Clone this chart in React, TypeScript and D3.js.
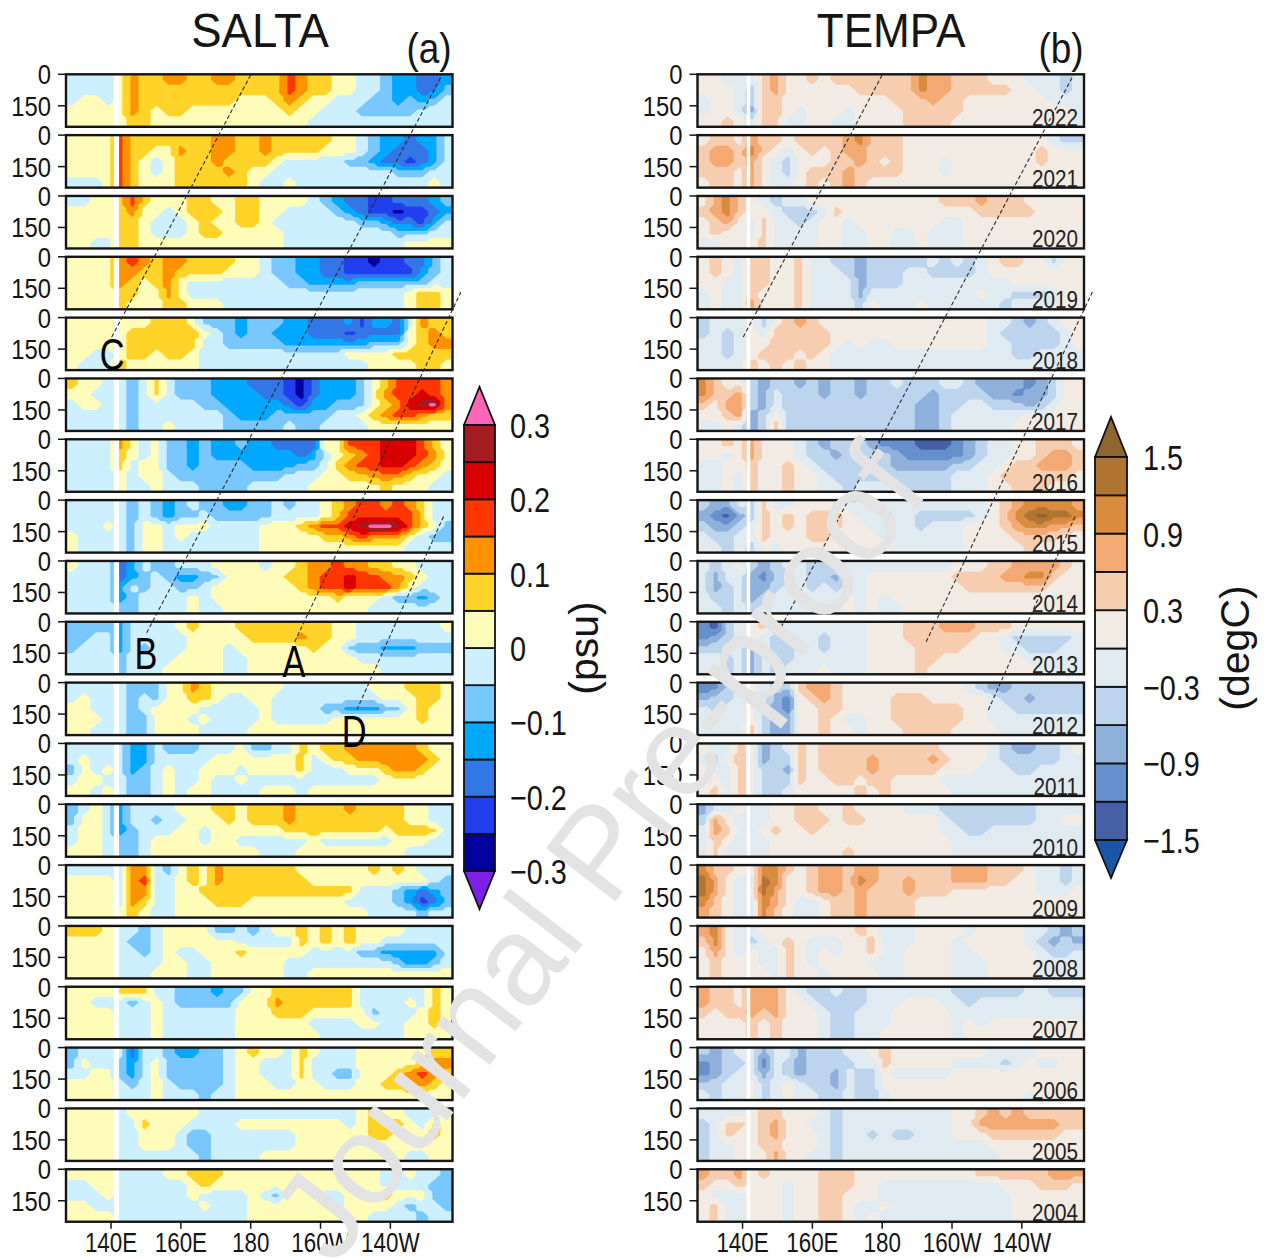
import React from 'react';
import { contours, geoPath, geoTransform, scaleLinear, scaleThreshold } from 'd3';

// years, top panel first
const years = [2022, 2021, 2020, 2019, 2018, 2017, 2016, 2015, 2014, 2013, 2012, 2011, 2010, 2009, 2008, 2007, 2006, 2005, 2004];

// class letters, one per 3.5 deg of longitude, five depth rows per year
const saltClasses = 'abcdefghijklmn';
const saltMids = [-0.325, -0.275, -0.225, -0.175, -0.125, -0.075, -0.025, 0.025, 0.075, 0.125, 0.175, 0.225, 0.275, 0.325];
const saltBreaks = [-0.3, -0.25, -0.2, -0.15, -0.1, -0.05, 0, 0.05, 0.1, 0.15, 0.2, 0.25, 0.3];
const saltColors = ['#7d1fe6', '#0000a0', '#2040f0', '#3377e6', '#00a8ff', '#78c8ff', '#ccf0ff', '#fffbb8', '#ffd327', '#ff9200', '#ff3600', '#d80000', '#a51c20', '#ff66b8'];
const saltLabels = ['0.3', '0.2', '0.1', '0', '\u22120.1', '\u22120.2', '\u22120.3'];
const saltLabelValues = [0.3, 0.2, 0.1, 0, -0.1, -0.2, -0.3];

const tempClasses = 'abcdefghijkl';
const tempMids = [-1.65, -1.35, -1.05, -0.75, -0.45, -0.15, 0.15, 0.45, 0.75, 1.05, 1.35, 1.65];
const tempBreaks = [-1.5, -1.2, -0.9, -0.6, -0.3, 0, 0.3, 0.6, 0.9, 1.2, 1.5];
const tempColors = ['#1b55a5', '#4660a8', '#6690cc', '#8fb0da', '#bcd4ec', '#e0eaf1', '#f2ebe3', '#f6cdae', '#f3a971', '#d98b3e', '#b07433', '#8f6630'];
const tempLabels = ['1.5', '0.9', '0.3', '\u22120.3', '\u22120.9', '\u22121.5'];
const tempLabelValues = [1.5, 0.9, 0.3, -0.3, -0.9, -1.5];

const lonTicks = [140, 160, 180, 200, 220];
const lonLabels = ['140E', '160E', '180', '160W', '140W'];
const depthTicks = [0, 150];

// propagation lines: lon / panel position (in panel steps from the top)
const lineLons = [[140.2, 180], [150.2, 234.8], [192.6, 240.2], [210.4, 235.3]];
const lineSteps = [[4.32, 0.01], [9.18, 0.01], [9.33, 3.58], [10.45, 7.26]];
const markNames = ['C', 'B', 'A', 'D'];
const markLons = [140.3, 150, 192.4, 209.6];
const markSteps = [4.6, 9.51, 9.65, 10.8];

const salta2022 = [
  'gggg hjii jjii jjii iikj iihh ggfe edde',
  'gggg hjii iiii iiii iikj iihh ggfe eddf',
  'ghhg hjii iiii iihh hiji hhgg gffe fefg',
  'hhhh hjih iihh hhhh hhih hggg ffff fggg',
  'hhhh hiih hhhh hhhh hhhh gggg gggg gggg',
];
const salta2021 = [
  'hhhh kiii iiii jjii jiii iihh gfee deeg',
  'hhhh kiih hjii jjii jiii ihhh gfed ddeg',
  'hhhh kihg hiii jiii ihgg gggf fedd cdeg',
  'hhhh kihg hiii ijih hggg gggg gggf ffgg',
  'gggh kihh hiii iiih gghg gggg gggg gghg',
];
const salta2020 = [
  'gghh ikih hhii hhii hhhh gfed dccd ddef',
  'hhhh ijhh ghii ihii hhgg ggfe dccb ccde',
  'hhhh iihg gghi hhii hggg gggg ffed dceg',
  'hhhh iihg gghi ihhh hhgg gggg gggf ffgg',
  'hhgg iihh hhhh hhhh hhgg gggg gggg hhhh',
];
const salta2019 = [
  'hhhh jkji jjii iihh gffe eddc cbcc ddfg',
  'hhhh jjii jiii ihhh gffe eddc cccc cefg',
  'hhhh jihi jhgg gggg ggff eeee ffff ffgg',
  'hhhh iihh jhgg gggg gggg gggg gggg hiih',
  'hhhh ihhh iihh hggg gggg gggg gggg hiih',
];
const salta2018 = [
  'hhhh hhhi iihf ffef ffee ddde ceed gjii',
  'hhhh hiii iiih gfef feee dddc dddd hiji',
  'hhhh hiii iiig gfff ffee eeee efff hijj',
  'hhgg hiih iihg gggg gggg gggh hhhi iiii',
  'hggg ihhh hhhg gggg gggg gggg ghhh hiih',
];
const salta2017 = [
  'ihhg gfgi gfff eeed ddcb deee fhik kkkj',
  'hhgg gfgi gfff eeee ddcb deee fhjk klkj',
  'ghhg gfgg gggf feee eedc eeff fhij lmnj',
  'gggg gfgg gggg gfee efff ffgg hijk kjii',
  'gggg gfgg hggg gfff ffgf fggg ghhh hhhh',
];
const salta2016 = [
  'gggg jhgh ffef eefe eddd dhhk kkll lkih',
  'gggg ihgh ffef eeee eeed eghi jkll lkjh',
  'gggg ighh ffef fffe eeef fgij kkll kjih',
  'gggg hghh gfff ffff ffgg ghhi ijjj ihhg',
  'gggg hggh gggf fffg gggg hhhh hhih hhgg',
];
const salta2015 = [
  'gggg gfgf efgf feef fgfg ghij kkjk jigg',
  'gggg gfgf effg ffff fggg ghik kkkk kigg',
  'gggh gfhh ghhh gggg hhhi jkkl mnnm kihf',
  'hggg gfhh ghgg gggg hhhh hiij kjjj hgff',
  'hggg gfhh gggg gggg hhhh hhhh hhhh gggg',
];
const salta2014 = [
  'hggg degf fggg hhhh ghhi jjkj jiih hggg',
  'gggg defg feef fhhh hhii jkkl kkjj ihgg',
  'gggg egfg gffg hhhh hhhi jkkl kkkj hggg',
  'gggg efgg gghg hhhh hhhh hhih hhgf fefg',
  'gggg ffgg gghg ghhh hhhh hhhh hggg gggg',
];
const salta2013 = [
  'ffff eggg ghih hhii iiii iihh gggg gggh',
  'ffgg eggg gghh hhhi iiij iihh gggg gggg',
  'fggg egfg gghh hghh hhhh ihhf ffee efff',
  'gggg fggg ghhh hggh hhhh hhhh gggg gggg',
  'gggg fggg hhhh hggh hhhh hhhh hhgg gggg',
];
const salta2012 = [
  'gggg gfff hhji hhhh hhgg gggg ghhh iiih',
  'ghgg gfgf hhii hggh hggg gggg gghh hiih',
  'hhgg gfgh hhhg gggg hggg gffe eeff hihh',
  'hhhg gffh hhgh gggg hggg gghh hhhh hihh',
  'hhgg gffh hhhg gggh hhhh hhhh hhhh hhhh',
];
const salta2011 = [
  'gggg geeg fffg gghf fggi hiij jjjj jihh',
  'ghgg geeg gggg hhhh hhhi ghii jjjj jjih',
  'fhgh gefg hggh hhgh hhhi gggh hhij jihh',
  'ghhg gffg hggh gghg gggg gggg gghh hhhh',
  'hhgh gffg hghh gggg hhhg hhhh hhhh hhhh',
];
const salta2010 = [
  'fghg eggg ghhh iihi iiji iiij iiii hhgg',
  'fhhg eggf gghh hihi iiji iiii iiii hhgg',
  'ghhg efgg ghhg hhhh hhii iiii iihi iiig',
  'ghhg ffgh hhhg hhgg gggg hggg gggh hhgg',
  'hhhg ffgh hhhh hhhh gggh hhhh hhhh gggg',
];
const salta2009 = [
  'gggg gjjg fhih jiii iiih hhhh hihi hggg',
  'hhhh gjkg ghih jiii iiii hhhh hhhh hhgf',
  'hhhh gjjg ghhi iiii iiii iiii gggf edef',
  'hhhh gjig ghhh iiih hhhh hhhg gggf ecdf',
  'hhhh hihg ghhh hhhh hhhh hhhh hggg gfgg',
];
const salta2008 = [
  'iiih ggfg hhhh ffgf ghhi hihi hhhh gggg',
  'hhhh gffg hhhh hhgg gggi hihi hhgg gggg',
  'hhhh ggfg hggh hhih hhhh gggg ffee eeeg',
  'hhhh gggg hhgg hhhh hhgg gggg gggf eefg',
  'hhhh gggh hhgg hhhh hhgg hhhh hhhh hhhh',
];
const salta2007 = [
  'hhhh iiig gfff effh hiii iiii gggg ggih',
  'hhgg gfgh gfff ffhh hjii iiii gggg hgih',
  'hhhh gggh gggg gghh hiii hhhh hfgg ghih',
  'hhhh gggh gggg gghh hhhh gggg hhgg hhih',
  'hhhh gggh gggg gghh hhhh hggg gggg hhhh',
];
const salta2006 = [
  'fggg gdgg feef fghi hhgi hggg hhhh hhii',
  'fhgg fegh ffff fghh gggi gggg hhhh hijj',
  'gghh fegh ffff fghh gggi ggff hhhi jkji',
  'hhhh gfgh gfff fghh hggh hggg hhii jjih',
  'hhhh gggh gggf gghh hhhh hhhh hhhh hhhh',
];
const salta2005 = [
  'hhhh ghhh hhhg gggg gggg gggg hihh gggh',
  'hhhh ggih hhgg gghh hhhh hhhg hiii hgih',
  'hhhh gghh hgff gggg gggh hhhh hiih hhih',
  'hhhh gghh hgff gggg gggh hhhh hhhh hhhh',
  'hhhh gggg gggf gggg hhhh hhhh hhhh gghh',
];
const salta2004 = [
  'hhhh gggg hhii ihhh hhhh hhhh hhgg hggf',
  'gghh gggg gghi hhhh hhhh hhhh hhgg ggff',
  'gggh gggg gghg gggh gfhh hggh ghih hhff',
  'hhgg gggg gggh gggh hhhh hhgh hhhg fggf',
  'hhhh gggg gggg gggh hhhh hhhh hggg gfgg',
];

const tempa2022 = [
  'ggff fhig ghgh hhhh hhji ihhh gggf ffef',
  'gggf ehig gggg ghhh hhji ihhh hhgg ffef',
  'fggf ehhg gggg gggg hhhi hhgg gggg gfff',
  'fggf dhhg fggg fggg ghhh hhgg gggg gggf',
  'gghg fhhf fggf fggg ghhh hggg gggg gggf',
];
const tempa2021 = [
  'ghhg ihhg hhhh ijhh hggg gggg gggg gfee',
  'hiih jhgf ghgh iihh hggg gggg gggg hggg',
  'hiih igfe gggh hihg hggg fggg gggg hggg',
  'hhhg igfe ghhh ihhh hggg fggg gggg gggg',
  'ghhg igff ghgh ihgg gggg gggg gggg gggg',
];
const tempa2020 = [
  'gijh gfef fggg gggg gggg hhhi hhhg gggg',
  'hijh ggfe eefh gggg gggg gggh hhhh gggg',
  'ghig fhff efgg fggg gggg ffgg gggg gggg',
  'ghgg fhff ffgg ffgg ffgf ffgg gggg gggg',
  'ffgg ghff ffgg ffgg ffgf ffgg gggg gggg',
];
const tempa2019 = [
  'ghgf hhgg hffe edee eeef efef ghhg gegg',
  'ghgf hhgg hfff edee effe eeef gggg gggg',
  'ggff hhgg hfff fdee efff ffff ffgg gggg',
  'fgff hggg hfff fdff ffff fffg ffee efgg',
  'fgff iggg hfff fegf ffgf ffff feff ffgg',
];
const tempa2018 = [
  'efff gegh ihgg gggg gggg gggg ffed efgg',
  'efef gfhh hhhg gggg gggg gggg feee eefg',
  'ffef gghh hhhg fgff gggg gggg ffee eefg',
  'ffef ghhh ghgf ffff ffff ffff ffee ffff',
  'ffff hghg hggf ffff ffff ffff ffff ffff',
];
const tempa2017 = [
  'jhgg edee dede edee feee ffed dddc degg',
  'jhhi edfe eede edee eeed eeee ddcd degg',
  'hgii edfe eeee eeee eedd eeff eeed efgg',
  'gghi dege eeee eeee eedd efff fffg fggg',
  'ffgf dehe eeee eeee eedd efff ffgg gggg',
];
const tempa2016 = [
  'gghg iggg fede eedc ccbb bcde ffgg hhhg',
  'ggfg iggg feed eeee dccc ccde ffgg hiih',
  'ffgg hggh gfee eeee dddd deef fghh iiih',
  'ffgf hggh ggfe eeee eeee efff ghhh hhhg',
  'ffgf hggh ggff efff feee efff gghh hggg',
];
const tempa2015 = [
  'eddf ehff gggg ffgf ffff ffff ghij jjji',
  'dcbd ehgh ghhh gffg ffee eeef ghjk lkkj',
  'edde fhgh ghhh ggff ffef ffgg ghij jiih',
  'feef fhgg ghhg gggf ffff ffgg gghh hhgg',
  'ffef egfg gggg gggg ffff ffgg gggh gggg',
];
const tempa2014 = [
  'fefg edef feef ffff ffff fggg hhii iihg',
  'fdff dcee feed ffgg gggg ghhh hiij jhgg',
  'fdef ddef fefe ffgg gggg gghh hhhh hggg',
  'feef deff ffff gfgf gggg gggg gggg gfgg',
  'ffef efff ffff gfgf fggg gggg gggg gggg',
];
const tempa2013 = [
  'cbef ghef ffff ffgg ghhh iiih hhgg gggg',
  'cdef gfef ffef ffgg ghhh hhhg gfee eeef',
  'eeff dfee ffef ffgg gghh hhgg gffe eeff',
  'ffef dfee ffff ffgg gghh gggg gggf ffff',
  'ffef dfef ffgf ffgg gghg gggg gggg ffff',
];
const tempa2012 = [
  'ccef gfee hiih gggg gggg ggfe ddee eeee',
  'deef gfdc ghih gggg hhhg gggg feed eeee',
  'feff gedc gghh gggg hhhh hhgg ffee eeee',
  'ffff gedd gghg ffgg hhhh hhgg ffff ffff',
  'ffff hedd gghg gfgg ghhh hggg gfff ffff',
];
const tempa2011 = [
  'gffh gdef hghh hhhh hhhh gggg fedd eefg',
  'fegh gdee hghh hhih hhhi hggg feee eeff',
  'gffh geed hghh hhih hhhh gggf ffee ffff',
  'ggfh geee hggh hghh gggg ffff ffff ffff',
  'ghfh geef gggg ghgh gggg gfff ffff ffff',
];
const tempa2010 = [
  'dffg ffgg hhgg hggg gfff eeee eeee ffff',
  'eigf ffgg hhhg hhgg gggg feee eeee ffgg',
  'fihf fghg ghgg gggg gggg ffee ffff ffff',
  'fhgf ffgg gggg gggg gggg gfff ffff ffff',
  'fhff ffgg gggg hggg gggg gfff ffff ffff',
];
const tempa2009 = [
  'jhhg gjjh ghii hiih hhhh hiii hhhg ffef',
  'kigf fkjg ghii hjih hihh hiii hhgg ffef',
  'kigf gkig ghii hihh hihh hggg gggg fffg',
  'jhgf fjig ffgh hihh hhgg gggg gggg gggg',
  'ihgf fjhg ffgh hihh hhgg gggg gggg gggg',
];
const tempa2008 = [
  'ijgf fggg gggg ghgf ffgg ggfg gggf fede',
  'hjgf efgh gfff gghf ffgg gfgg gggf eded',
  'gigf gffh gfgf gghf fggg gffg gggg feef',
  'ghgg gffh gfgg ggff fggg gfff gggg ffff',
  'ghgg ggfh ggfg gggf fggg gfff gggg ffff',
];
const tempa2007 = [
  'ihhg iiig feef eeff ffff feee eeef feee',
  'ihhg iiig gfee eeff fggg ffef ffff ffff',
  'hghh ihig ggfe efff gggg gfff ffff ffff',
  'gggg hghg ggfe efff gggg gfgf gggg gggg',
  'gggg hghg ggfe effg gggg gfgg gggg gggg',
];
const tempa2006 = [
  'edef fdff deee ffgh gggg gggg ffff gggg',
  'cdee fcfe deee effh gggg gfff fefg ffgg',
  'cdef fdfe deed feeg ffff fggg gggg gggg',
  'eeff gefg feed feeg gggg gggg gggg gggg',
  'feff gefg ffee feef gggg gggg gggf gggg',
];
const tempa2005 = [
  'ffff ghhg ggfe ffff ffff fggh ihih hhhh',
  'efhh ghig gffe ffff ffff fggi iiii iihh',
  'efhg ghig ggfe ffef eeff fggg hhhh hhgg',
  'effg ghhg ggfe ffff ffff ffff gggg gggg',
  'effg ggig gffe ffff ffff ffff fggg gggg',
];
const tempa2004 = [
  'ihhi ghgg gghh hggg gggg gggh hhhh hiii',
  'hggh gggf gghh hggf ffff ffff fggg hhhg',
  'gfff gggf gghh gggf ffff ffff ffgg gggg',
  'ghff gggf gghh gffg ffff ffff ffgg gggg',
  'ghff gggf gghh gfgf ffff ffff ffgg gggg',
];

const saltaPanels = [salta2022, salta2021, salta2020, salta2019, salta2018, salta2017, salta2016, salta2015, salta2014, salta2013, salta2012, salta2011, salta2010, salta2009, salta2008, salta2007, salta2006, salta2005, salta2004];
const tempaPanels = [tempa2022, tempa2021, tempa2020, tempa2019, tempa2018, tempa2017, tempa2016, tempa2015, tempa2014, tempa2013, tempa2012, tempa2011, tempa2010, tempa2009, tempa2008, tempa2007, tempa2006, tempa2005, tempa2004];

const SANS = '"Liberation Sans", Arial, sans-serif';
const INK = '#151515';

const panelTop = 74.3;
const panelStep = 60.83;
const panelHeight = 52.5;
const panelWidth = 386.5;
const nCols = 32;
const nRows = 5;
const fine = 3; // drawn grid cells per read-off cell, gives the stepped edge of the original

const lonScale = scaleLinear().domain([127.1, 237.8]).range([0, panelWidth]);
const depthScale = scaleLinear().domain([0, 250]).range([0, panelHeight]);
const stepScale = scaleLinear().domain([0, 1]).range([panelTop, panelTop + panelStep]);

function decode(rows: string[], classes: string, mids: number[]) {
  return rows.map(r =>
    r
      .replace(/ /g, '')
      .split('')
      .map(c => mids[classes.indexOf(c)])
  );
}

// resample read-off cells on to the drawn grid
function resample(grid: number[][]) {
  const out: number[] = [];
  for (let j = 0; j < nRows * fine; j++) {
    const v = Math.min(nRows - 1, Math.max(0, (j + 0.5) / fine - 0.5));
    const j0 = Math.floor(v);
    const j1 = Math.min(nRows - 1, j0 + 1);
    for (let i = 0; i < nCols * fine; i++) {
      const u = Math.min(nCols - 1, Math.max(0, (i + 0.5) / fine - 0.5));
      const i0 = Math.floor(u);
      const i1 = Math.min(nCols - 1, i0 + 1);
      const a = grid[j0][i0] + (grid[j0][i1] - grid[j0][i0]) * (u - i0);
      const b = grid[j1][i0] + (grid[j1][i1] - grid[j1][i0]) * (u - i0);
      out.push(a + (b - a) * (v - j0));
    }
  }
  return out;
}

// the original's lettering is narrower than any installed face
function Narrow({ x, y, size, sx = 0.82, anchor = 'start', fill = INK, children }: any) {
  return (
    <text
      transform={`translate(${x},${y}) scale(${sx},1)`}
      textAnchor={anchor}
      fontFamily={SANS}
      fontSize={size}
      fill={fill}
      stroke="none">
      {children}
    </text>
  );
}

function Field({ rows, classes, mids, breaks, colors }: any) {
  const values = resample(decode(rows, classes, mids));
  const color = scaleThreshold<number, string>().domain(breaks).range(colors);
  const bands = contours().size([nCols * fine, nRows * fine]).smooth(false).thresholds(breaks)(values);
  const sx = panelWidth / (nCols * fine);
  const sy = panelHeight / (nRows * fine);
  const path = geoPath(
    geoTransform({
      point(x, y) {
        this.stream.point(x * sx, y * sy);
      },
    })
  );
  return (
    <g>
      <rect width={panelWidth} height={panelHeight} fill={colors[0]} />
      {bands.map(b => (
        <path key={b.value} d={path(b as any) || ''} fill={color(b.value)} />
      ))}
    </g>
  );
}

function Column({ x, panels, classes, mids, breaks, colors, gap, showYears }: any) {
  const lonX = (d: number) => x + lonScale(d);
  return (
    <g>
      {panels.map((rows: string[], i: number) => {
        const top = panelTop + i * panelStep;
        return (
          <g key={years[i]}>
            <g transform={`translate(${x},${top})`}>
              <Field rows={rows} classes={classes} mids={mids} breaks={breaks} colors={colors} />
              <rect x={lonScale(gap[0])} width={lonScale(gap[1]) - lonScale(gap[0])} height={panelHeight} fill="#fff" />
            </g>
            {depthTicks.map(d => (
              <g key={d} transform={`translate(${x},${top + depthScale(d)})`}>
                <line x1={-8} x2={0} stroke={INK} strokeWidth={1.5} />
                <Narrow x={-15} y={10} size={28} sx={0.85} anchor="end">
                  {d}
                </Narrow>
              </g>
            ))}
          </g>
        );
      })}
      {/* frames drawn after all fields */}
      {panels.map((_: string[], i: number) => (
        <rect
          key={i}
          x={x}
          y={panelTop + i * panelStep}
          width={panelWidth}
          height={panelHeight}
          fill="none"
          stroke={INK}
          strokeWidth={2.4}
        />
      ))}
      {showYears &&
        years.map((yr, i) => (
          <Narrow
            key={yr}
            x={x + panelWidth - 6}
            y={panelTop + i * panelStep + panelHeight - 1}
            size={23}
            sx={0.9}
            anchor="end"
            fill="#222">
            {yr}
          </Narrow>
        ))}
      {lonTicks.map((t, i) => (
        <g key={t} transform={`translate(${lonX(t)},${panelTop + 18 * panelStep + panelHeight})`}>
          <line y1={0} y2={7} stroke={INK} strokeWidth={1.5} />
          <Narrow x={0} y={30} size={28} sx={0.8} anchor="middle">
            {lonLabels[i]}
          </Narrow>
        </g>
      ))}
      {lineLons.map((l, i) => (
        <line
          key={i}
          x1={lonX(l[0])}
          y1={stepScale(lineSteps[i][0])}
          x2={lonX(l[1])}
          y2={stepScale(lineSteps[i][1])}
          stroke="#2a2a2a"
          strokeWidth={1.1}
          strokeDasharray="4 2.5"
        />
      ))}
    </g>
  );
}

function Legend({ x, width, top, bottom, tipTop, tipBottom, colors, breaks, labels, labelValues, unit, unitX, labelX }: any) {
  const n = colors.length - 2;
  const bandH = (bottom - top) / n;
  const y = scaleLinear().domain([breaks[breaks.length - 1], breaks[0]]).range([top, bottom]);
  const mid = x + width / 2;
  return (
    <g stroke="#111" strokeWidth={1.8}>
      <path d={`M${x},${top}L${mid},${tipTop}L${x + width},${top}Z`} fill={colors[colors.length - 1]} />
      {colors.slice(1, -1).map((c: string, i: number) => (
        <rect key={c} x={x} y={bottom - (i + 1) * bandH} width={width} height={bandH} fill={c} />
      ))}
      <path d={`M${x},${bottom}L${mid},${tipBottom}L${x + width},${bottom}Z`} fill={colors[0]} />
      {labels.map((l: string, i: number) => (
        <Narrow key={l} x={labelX} y={y(labelValues[i]) + 13} size={36} sx={0.8}>
          {l}
        </Narrow>
      ))}
      <text
        transform={`translate(${unitX},648) rotate(-90)`}
        textAnchor="middle"
        fontFamily={SANS}
        fontSize={41}
        fill={INK}
        stroke="none">
        {unit}
      </text>
    </g>
  );
}

export default function App() {
  const leftX = 66;
  const rightX = 697.5;
  return (
    <svg width={1263} height={1250} viewBox="8 8 1263 1250" style={{ display: 'block', overflow: 'hidden' }}>
      <rect x={0} y={0} width={1271} height={1258} fill="#fff" />
      <Narrow x={260} y={47} size={49} sx={0.93} anchor="middle">
        SALTA
      </Narrow>
      <Narrow x={891} y={47} size={49} sx={0.9} anchor="middle">
        TEMPA
      </Narrow>
      <Narrow x={429} y={63} size={42} sx={0.88} anchor="middle">
        (a)
      </Narrow>
      <Narrow x={1061} y={63} size={42} sx={0.88} anchor="middle">
        (b)
      </Narrow>
      <Column
        x={leftX}
        panels={saltaPanels}
        classes={saltClasses}
        mids={saltMids}
        breaks={saltBreaks}
        colors={saltColors}
        gap={[140.8, 142.3]}
      />
      <Column
        x={rightX}
        panels={tempaPanels}
        classes={tempClasses}
        mids={tempMids}
        breaks={tempBreaks}
        colors={tempColors}
        gap={[141.2, 142.2]}
        showYears
      />
      {markNames.map((m, i) => (
        <Narrow
          key={m}
          x={leftX + lonScale(markLons[i])}
          y={stepScale(markSteps[i]) + 16}
          size={44}
          sx={0.78}
          anchor="middle"
          fill="#000">
          {m}
        </Narrow>
      ))}
      <Legend
        x={464}
        width={31}
        top={425}
        bottom={871}
        tipTop={387}
        tipBottom={909}
        colors={saltColors}
        breaks={saltBreaks}
        labels={saltLabels}
        labelValues={saltLabelValues}
        unit="(psu)"
        unitX={598}
        labelX={510}
      />
      <Legend
        x={1095}
        width={32}
        top={457}
        bottom={840}
        tipTop={417}
        tipBottom={878}
        colors={tempColors}
        breaks={tempBreaks}
        labels={tempLabels}
        labelValues={tempLabelValues}
        unit="(degC)"
        unitX={1249}
        labelX={1143}
      />
      <text
        transform="translate(334,1268) rotate(-52.5)"
        fontFamily={SANS}
        fontSize={127}
        fill="#e3e3e3">
        Journal Pre-proof
      </text>
    </svg>
  );
}
